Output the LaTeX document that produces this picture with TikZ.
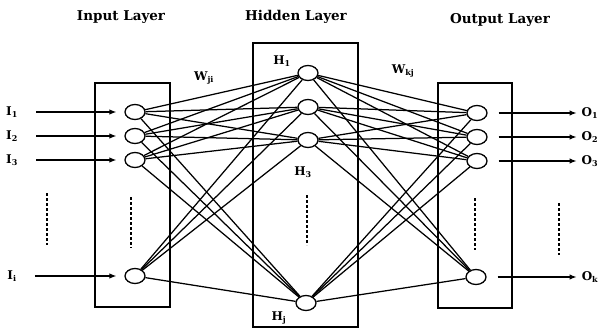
\documentclass[tikz,border=0pt]{standalone}
\usepackage{fontspec}
\setmainfont{DejaVu Serif}
\usepackage{tikz}
\usetikzlibrary{shapes.geometric, arrows.meta}
\newcommand{\lsub}[2]{#1\textsubscript{#2}}
\tikzset{
  neuron/.style={draw, ellipse, minimum width=20pt, minimum height=15pt, inner sep=0pt, line width=1.3pt},
  link/.style={line width=1.25pt},
  arr/.style={line width=1.2pt, -{Latex[length=7pt,width=5.5pt]}},
  layerbox/.style={line width=1.2pt},
  dots/.style={line width=1.4pt, dash pattern=on 3pt off 2pt},
  title/.style={font=\bfseries\fontsize{13.5}{13.5}\selectfont},
  lab/.style={font=\bfseries\fontsize{12}{12}\selectfont, inner sep=0pt},
}

\begin{document}
\begin{tikzpicture}[x=1pt, y=-1pt]
    \useasboundingbox (0,0) rectangle (603,329);
    % Layer titles
    \node[title] (tin) at (121,17) {Input Layer};
    \node[title] (thid) at (296,17) {Hidden Layer};
    \node[title] (tout) at (500,20) {Output Layer};
    % Layer boxes
    \draw[layerbox] (95,83) rectangle (170,307);
    \draw[layerbox] (253,43) rectangle (358,327);
    \draw[layerbox] (438,83) rectangle (512,308);
    % Input neurons
    \node[neuron] (i1) at (135,112) {};
    \node[neuron] (i2) at (135,136) {};
    \node[neuron] (i3) at (135,160) {};
    \node[neuron] (ii) at (135,276) {};
    % Hidden neurons
    \node[neuron] (h1) at (308,73) {};
    \node[neuron] (h2) at (308,107) {};
    \node[neuron] (h3) at (308,140) {};
    \node[neuron] (hj) at (306,303) {};
    % Output neurons
    \node[neuron] (o1) at (477,113) {};
    \node[neuron] (o2) at (477,137) {};
    \node[neuron] (o3) at (477,161) {};
    \node[neuron] (ok) at (476,277) {};
    % Weighted links
    \foreach \a in {i1,i2,i3,ii}
      \foreach \b in {h1,h2,h3,hj}
        \draw[link] (\a) -- (\b);
    \foreach \a in {h1,h2,h3,hj}
      \foreach \b in {o1,o2,o3,ok}
        \draw[link] (\a) -- (\b);
    % Inputs
    \node[lab] (li1) at (12,112) {\lsub{I}{1}};
    \node[lab] (li2) at (12,136) {\lsub{I}{2}};
    \node[lab] (li3) at (12,160) {\lsub{I}{3}};
    \node[lab] (lii) at (12,276) {\lsub{I}{i}};
    \foreach \n in {1,2,3,i}
      \draw[arr, shorten <=18pt, shorten >=8pt] (li\n) -- (i\n);
    % Outputs
    \node[lab] (lo1) at (590,113) {\lsub{O}{1}};
    \node[lab] (lo2) at (590,137) {\lsub{O}{2}};
    \node[lab] (lo3) at (590,161) {\lsub{O}{3}};
    \node[lab] (lok) at (590,277) {\lsub{O}{k}};
    \foreach \n in {1,2,3,k}
      \draw[arr, shorten <=11pt, shorten >=5pt] (o\n) -- (lo\n);
    % Weight and hidden labels
    \node[lab] (wji) at (204,78) {\lsub{W}{ji}};
    \node[lab] (wkj) at (403,71) {\lsub{W}{kj}};
    \node[lab] (lh1) at (282,61) {\lsub{H}{1}};
    \node[lab] (lh3) at (303,172) {\lsub{H}{3}};
    \node[lab] (lhj) at (279,318) {\lsub{H}{j}};
    % Dotted gaps
    \draw[dots] (47,193) -- (47,245);
    \draw[dots] (131,197) -- (131,248);
    \draw[dots] (307,195) -- (307,245);
    \draw[dots] (475,198) -- (475,250);
    \draw[dots] (559,203) -- (559,255);
\end{tikzpicture}
\end{document}
